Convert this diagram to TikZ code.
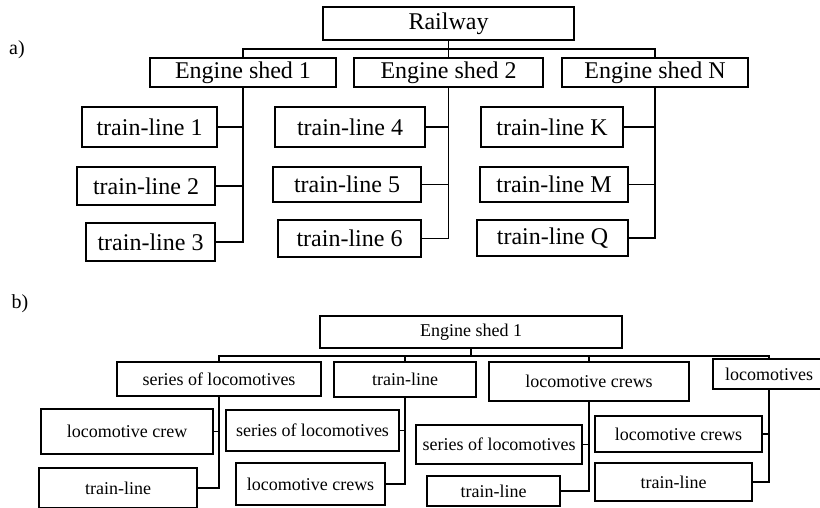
\documentclass[tikz,border=0pt]{standalone}
\usepackage{fontspec}
\setmainfont{Liberation Serif}
\usepackage{tikz}
\usetikzlibrary{positioning, calc}

\begin{document}
\begin{tikzpicture}[
        x=1pt, y=-1pt,
        box/.style={draw, line width=1.6pt, inner sep=0pt, align=center},
        bigbox/.style={box, font=\fontsize{24}{26}\selectfont},
        smallbox/.style={box, font=\fontsize{18}{20}\selectfont},
        line/.style={line width=1.6pt},
        tag/.style={font=\fontsize{20}{22}\selectfont}
    ]
        \useasboundingbox (0,0) rectangle (820,507);

        % -- part a --
        \node[tag] (taga) at (17,50) {a)};
        \node[bigbox, minimum width=251pt, minimum height=33pt] (rail) at (448.5,23.5) {Railway};
        \node[bigbox, minimum width=186pt, minimum height=29pt] (es1) at (243,72.5)   {Engine shed 1};
        \node[bigbox, minimum width=189pt, minimum height=29pt] (es2) at (448.5,72.5) {Engine shed 2};
        \node[bigbox, minimum width=186pt, minimum height=29pt] (esN) at (655,72.5)   {Engine shed N};
        % lines of shed 1
        \node[bigbox, minimum width=135pt, minimum height=40pt] (tl1) at (149.5,127) {train-line 1};
        \node[bigbox, minimum width=138pt, minimum height=38pt] (tl2) at (146,186)   {train-line 2};
        \node[bigbox, minimum width=129pt, minimum height=38pt] (tl3) at (150.5,242) {train-line 3};
        % lines of shed 2
        \node[bigbox, minimum width=150pt, minimum height=40pt] (tl4) at (350,127)   {train-line 4};
        \node[bigbox, minimum width=148pt, minimum height=35pt] (tl5) at (347,184.5) {train-line 5};
        \node[bigbox, minimum width=143pt, minimum height=37pt] (tl6) at (349.5,238.5) {train-line 6};
        % lines of shed N
        \node[bigbox, minimum width=142pt, minimum height=40pt] (tlK) at (552,127)   {train-line K};
        \node[bigbox, minimum width=148pt, minimum height=35pt] (tlM) at (554,184.5) {train-line M};
        \node[bigbox, minimum width=151pt, minimum height=36pt] (tlQ) at (552.5,238) {train-line Q};

        \coordinate (busa) at (448.5,49);
        \draw[line] (rail.south) -- (busa);
        \draw[line] (es1.north) |- (busa) -| (esN.north);
        \draw[line] (busa) -- (es2.north);

        \draw[line] (es1.south) |- (tl3.east);
        \draw[line] (tl1.east) -- (tl1.east -| es1.south);
        \draw[line] (tl2.east) -- (tl2.east -| es1.south);
        \draw[line] (es2.south) |- (tl6.east);
        \draw[line] (tl4.east) -- (tl4.east -| es2.south);
        \draw[line] (tl5.east) -- (tl5.east -| es2.south);
        \draw[line] (esN.south) |- (tlQ.east);
        \draw[line] (tlK.east) -- (tlK.east -| esN.south);
        \draw[line] (tlM.east) -- (tlM.east -| esN.south);

        % -- part b --
        \node[tag] (tagb) at (20,304) {b)};
        \node[smallbox, minimum width=302pt, minimum height=32pt] (shed) at (471,332) {Engine shed 1};
        \node[smallbox, minimum width=204pt, minimum height=34pt] (sol)   at (219,379)   {series of locomotives};
        \node[smallbox, minimum width=142pt, minimum height=35pt] (line)  at (405,379.5) {train-line};
        \node[smallbox, minimum width=200pt, minimum height=39pt] (crews) at (589,381.5) {locomotive crews};
        \node[smallbox, minimum width=112pt, minimum height=30pt] (locos) at (769,374)   {locomotives};
        % second level
        \node[smallbox, minimum width=172pt, minimum height=45pt] (crewA) at (127,431.5)   {locomotive crew};
        \node[smallbox, minimum width=158pt, minimum height=40pt] (lineA) at (118,488)     {train-line};
        \node[smallbox, minimum width=173pt, minimum height=41pt] (solB)  at (312.5,430.5) {series of locomotives};
        \node[smallbox, minimum width=149pt, minimum height=42pt] (crewB) at (310.5,484)   {locomotive crews};
        \node[smallbox, minimum width=166pt, minimum height=39pt] (solC)  at (499,444.5)   {series of locomotives};
        \node[smallbox, minimum width=133pt, minimum height=30pt] (lineC) at (493.5,491)   {train-line};
        \node[smallbox, minimum width=167pt, minimum height=36pt] (crewD) at (678.5,434)   {locomotive crews};
        \node[smallbox, minimum width=157pt, minimum height=38pt] (lineD) at (673.5,482)   {train-line};

        \coordinate (busb) at (471,356);
        \draw[line] (shed.south) -- (busb);
        \draw[line] (sol.north) |- (busb) -| (locos.north);
        \draw[line] (line.north) |- (busb);
        \draw[line] (crews.north) |- (busb);

        \draw[line] (sol.south) |- (lineA.east);
        \draw[line] (crewA.east) -- (crewA.east -| sol.south);
        \draw[line] (line.south) |- (crewB.east);
        \draw[line] (solB.east) -- (solB.east -| line.south);
        \draw[line] (crews.south) |- (lineC.east);
        \draw[line] (solC.east) -- (solC.east -| crews.south);
        \draw[line] (locos.south) |- (lineD.east);
        \draw[line] (crewD.east) -- (crewD.east -| locos.south);
    \end{tikzpicture}
\end{document}
